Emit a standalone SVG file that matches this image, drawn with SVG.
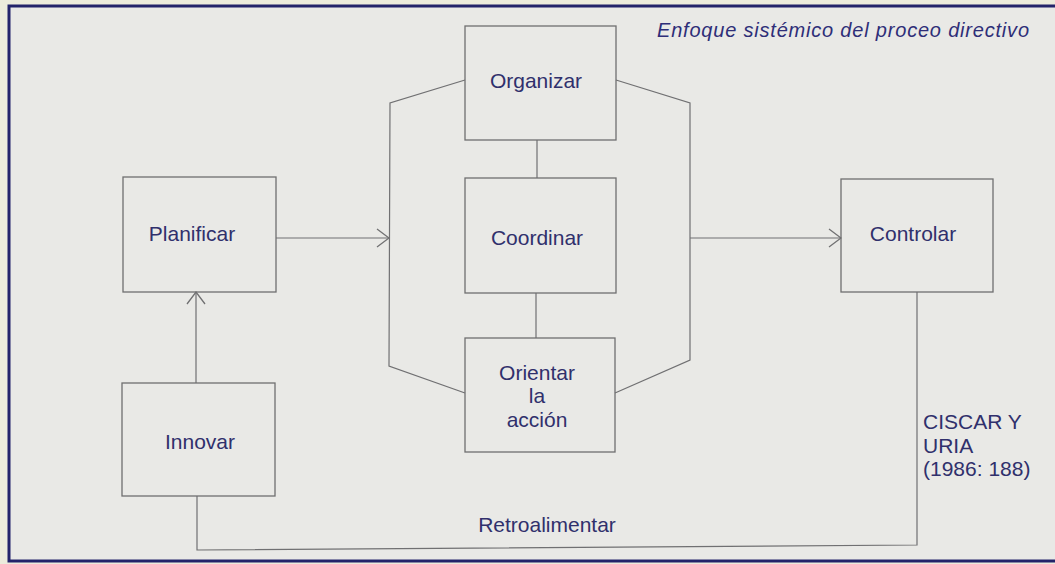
<svg xmlns="http://www.w3.org/2000/svg" width="1055" height="564" viewBox="0 0 1055 564">
  <style>
    .box { fill: none; stroke: #6f6f70; stroke-width: 1.3; }
    .lbl { font-family: "Liberation Sans", Arial, sans-serif; font-size: 21px; fill: #30306c; }
    .mid { text-anchor: middle; }
    .wire { fill: none; stroke: #707072; stroke-width: 1.2; }
    .title { font-family: "Liberation Sans", Arial, sans-serif; font-size: 20px; font-style: italic; letter-spacing: 0.8px; fill: #2e2e78; }
  </style>
  <defs>
    <marker id="chev" viewBox="0 0 14 20" refX="13" refY="10" markerWidth="14" markerHeight="20" markerUnits="userSpaceOnUse" orient="auto">
      <path d="M1,1 L13,10 L1,19" fill="none" stroke="#707072" stroke-width="1.3"/>
    </marker>
  </defs>

  <!-- page and frame -->
  <rect x="0" y="0" width="1055" height="564" fill="#ecebdc"/>
  <rect x="9" y="6" width="1060" height="555" fill="#e9e9e6" stroke="#23236a" stroke-width="3"/>

  <text class="title" x="657" y="37">Enfoque sistémico del proceo directivo</text>

  <!-- connectors -->
  <g id="connectors">
    <line class="wire" x1="276" y1="238" x2="389" y2="238" marker-end="url(#chev)"/>
    <line class="wire" x1="690" y1="238" x2="841" y2="238" marker-end="url(#chev)"/>
    <line class="wire" x1="196" y1="383" x2="196" y2="292" marker-end="url(#chev)"/>
    <polyline class="wire" points="465,80 390,103 389,366 465,393"/>
    <polyline class="wire" points="616,80 690,103 690,360 615,393"/>
    <line class="wire" x1="537" y1="140" x2="537" y2="178"/>
    <line class="wire" x1="536" y1="293" x2="536" y2="338"/>
    <polyline class="wire" points="917,292 917,545 197,550 197,496"/>
    <text class="lbl mid" x="547" y="532">Retroalimentar</text>
    <text class="lbl" x="923" y="429">CISCAR Y</text>
    <text class="lbl" x="923" y="453">URIA</text>
    <text class="lbl" x="923" y="476">(1986: 188)</text>
  </g>

  <!-- nodes -->
  <g id="planificar">
    <rect class="box" x="123" y="177" width="153" height="115"/>
    <text class="lbl mid" x="192" y="241">Planificar</text>
  </g>
  <g id="innovar">
    <rect class="box" x="122" y="383" width="153" height="113"/>
    <text class="lbl mid" x="200" y="449">Innovar</text>
  </g>
  <g id="organizar">
    <rect class="box" x="465" y="26" width="151" height="114"/>
    <text class="lbl mid" x="536" y="88">Organizar</text>
  </g>
  <g id="coordinar">
    <rect class="box" x="465" y="178" width="151" height="115"/>
    <text class="lbl mid" x="537" y="245">Coordinar</text>
  </g>
  <g id="orientar">
    <rect class="box" x="465" y="338" width="150" height="114"/>
    <text class="lbl mid" x="537" y="380">Orientar</text>
    <text class="lbl mid" x="537" y="403">la</text>
    <text class="lbl mid" x="537" y="427">acción</text>
  </g>
  <g id="controlar">
    <rect class="box" x="841" y="179" width="152" height="113"/>
    <text class="lbl mid" x="913" y="241">Controlar</text>
  </g>
</svg>
